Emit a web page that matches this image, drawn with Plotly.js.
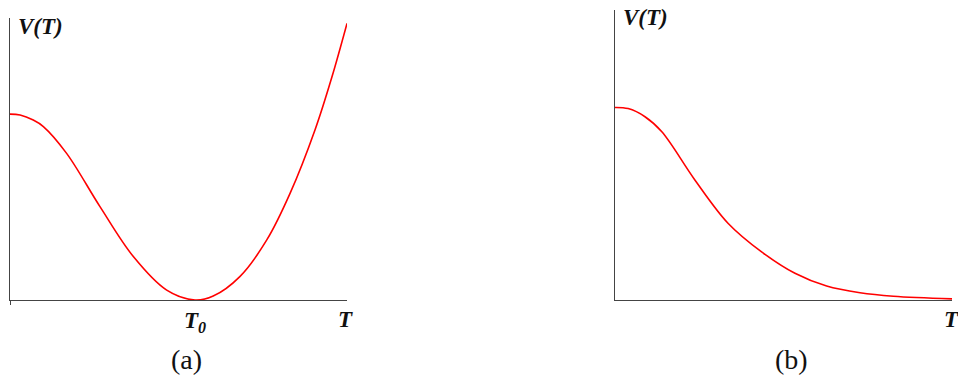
<!DOCTYPE html>
<html>
<head>
<meta charset="utf-8">
<script src="https://cdn.plot.ly/plotly-3.0.1.min.js"></script>
<style>
  body { margin: 0; background: #fff; }
  #graph { width: 958px; height: 377px; }
</style>
</head>
<body>
<div id="graph"></div>
<script>
// panel (a): potential with a minimum at T0
var tA = [0, 0.030, 0.069, 0.099, 0.168, 0.267, 0.366, 0.465, 0.549,
          0.603, 0.682, 0.762, 0.831, 0.905, 0.955, 1.0];
var vA = [0.659, 0.656, 0.638, 0.615, 0.520, 0.331, 0.154, 0.035, 0,
          0.014, 0.083, 0.213, 0.378, 0.603, 0.790, 0.981];

// panel (b): potential decaying to zero
var tB = [0, 0.039, 0.089, 0.139, 0.237, 0.336, 0.435, 0.534, 0.628, 0.727, 0.826, 1.0];
var vB = [0.664, 0.660, 0.632, 0.580, 0.414, 0.264, 0.166, 0.092, 0.048, 0.025, 0.013, 0.004];

var t0 = 0.549;

function drawGraph() {
    var W = 958, H = 377;
    var lineColor = "#444";
    var labelFont = {family: "Liberation Serif", size: 23, color: "#111"};
    var capFont = {family: "Liberation Serif", size: 28, color: "#111"};

    var data = [
        {x: tA, y: vA, xaxis: "x", yaxis: "y", type: "scatter", mode: "lines",
         line: {color: "#ff0000", width: 1.6, shape: "spline", smoothing: 1}, hoverinfo: "none"},
        {x: tB, y: vB, xaxis: "x2", yaxis: "y2", type: "scatter", mode: "lines",
         line: {color: "#ff0000", width: 1.6, shape: "spline", smoothing: 1}, hoverinfo: "none"}
    ];

    function axX(domain, anchor, ticks) {
        return {
            domain: domain, anchor: anchor, range: [0, 1],
            showline: true, linecolor: lineColor, linewidth: 1,
            showgrid: false, zeroline: false, showticklabels: false,
            ticks: ticks ? "outside" : "", tickvals: [0], ticklen: 4,
            tickcolor: lineColor, fixedrange: true
        };
    }
    function axY(domain, anchor) {
        return {
            domain: domain, anchor: anchor, range: [0, 1],
            showline: true, linecolor: lineColor, linewidth: 1,
            showgrid: false, zeroline: false, showticklabels: false,
            ticks: "", fixedrange: true
        };
    }

    var layout = {
        width: W, height: H,
        margin: {l: 0, r: 0, t: 0, b: 0},
        paper_bgcolor: "#fff", plot_bgcolor: "#fff",
        showlegend: false,
        xaxis: axX([10 / W, 347 / W], "y", true),
        yaxis: axY([(H - 300) / H, (H - 18) / H], "x"),
        xaxis2: axX([615 / W, 952 / W], "y2", false),
        yaxis2: axY([(H - 300) / H, (H - 10) / H], "x2"),
        annotations: [
            {xref: "paper", yref: "paper", x: 16 / W, y: (H - 26) / H, xanchor: "left", yanchor: "middle",
             text: "<b><i>V(T)</i></b>", showarrow: false, font: labelFont},
            {xref: "x", yref: "paper", x: t0, y: (H - 322) / H, xanchor: "center", yanchor: "middle",
             text: "<b><i>T<sub>0</sub></i></b>", showarrow: false, font: labelFont},
            {xref: "paper", yref: "paper", x: 345 / W, y: (H - 319) / H, xanchor: "center", yanchor: "middle",
             text: "<b><i>T</i></b>", showarrow: false, font: labelFont},
            {xref: "paper", yref: "paper", x: 186 / W, y: (H - 359) / H, xanchor: "center", yanchor: "middle",
             text: "(a)", showarrow: false, font: capFont},
            {xref: "paper", yref: "paper", x: 621 / W, y: (H - 17) / H, xanchor: "left", yanchor: "middle",
             text: "<b><i>V(T)</i></b>", showarrow: false, font: labelFont},
            {xref: "paper", yref: "paper", x: 951 / W, y: (H - 319) / H, xanchor: "center", yanchor: "middle",
             text: "<b><i>T</i></b>", showarrow: false, font: labelFont},
            {xref: "paper", yref: "paper", x: 791 / W, y: (H - 359) / H, xanchor: "center", yanchor: "middle",
             text: "(b)", showarrow: false, font: capFont}
        ]
    };

    Plotly.newPlot("graph", data, layout, {displayModeBar: false, staticPlot: true});
}

drawGraph();
</script>
</body>
</html>
